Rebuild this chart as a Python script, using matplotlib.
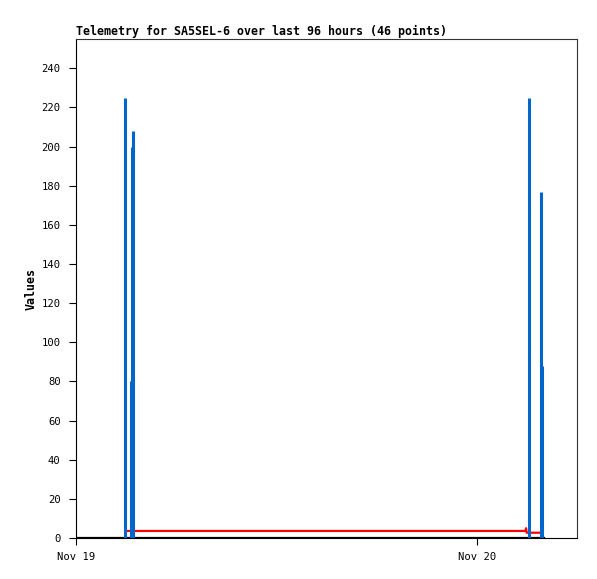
import matplotlib
matplotlib.use("Agg")
import matplotlib.pyplot as plt
import matplotlib.dates as mdates
from datetime import datetime, timedelta

# data (hours after Nov 19 00:00)
start = datetime(2023, 11, 19)
spike_hours = [2.96, 3.29, 3.35, 3.41, 27.11, 27.80, 27.89]
spike_values = [225, 80, 200, 208, 225, 177, 88]

red_hours = [3.05, 26.90, 26.93, 26.97, 27.80]
red_values = [3.6, 3.6, 5.0, 2.7, 2.7]

black_hours = [0.0, 28.0]
black_values = [0, 0]

def to_dt(hours):
    return [start + timedelta(hours=h) for h in hours]

plt.rcParams['font.family'] = ['DejaVu Sans Mono']

fig = plt.figure(figsize=(5.97, 5.79), dpi=100)
ax = fig.add_axes([76/597, 1 - 538/579, 501/597, 499/579])

ax.plot(to_dt(black_hours), black_values, color='black', lw=1.6, zorder=2)
ax.plot(to_dt(red_hours), red_values, color='#ff0000', lw=1.6, zorder=3)
ax.vlines(to_dt(spike_hours), 0, spike_values, color='#0066cc', lw=2.2, zorder=4)

ax.set_xlim(start, start + timedelta(hours=29.98))
ax.set_ylim(0, 255)
ax.set_yticks(range(0, 241, 20))
ax.xaxis.set_major_locator(mdates.DayLocator())
ax.xaxis.set_major_formatter(mdates.DateFormatter('%b %d'))

ax.tick_params(axis='both', labelsize=7.6, length=5, width=0.8, colors='black')
ax.tick_params(axis='y', pad=6)
ax.tick_params(axis='x', pad=5)
for side in ['top', 'right']:
    ax.spines[side].set_color('#333333')
for side in ['left', 'bottom']:
    ax.spines[side].set_color('black')
for s in ax.spines.values():
    s.set_linewidth(0.8)

ax.set_ylabel('Values', fontsize=8.4, fontweight='bold', labelpad=3)
ax.set_title('Telemetry for SA5SEL-6 over last 96 hours (46 points)',
             loc='left', fontsize=8.4, fontweight='bold', pad=3)

fig.savefig('out.png', dpi=100)
